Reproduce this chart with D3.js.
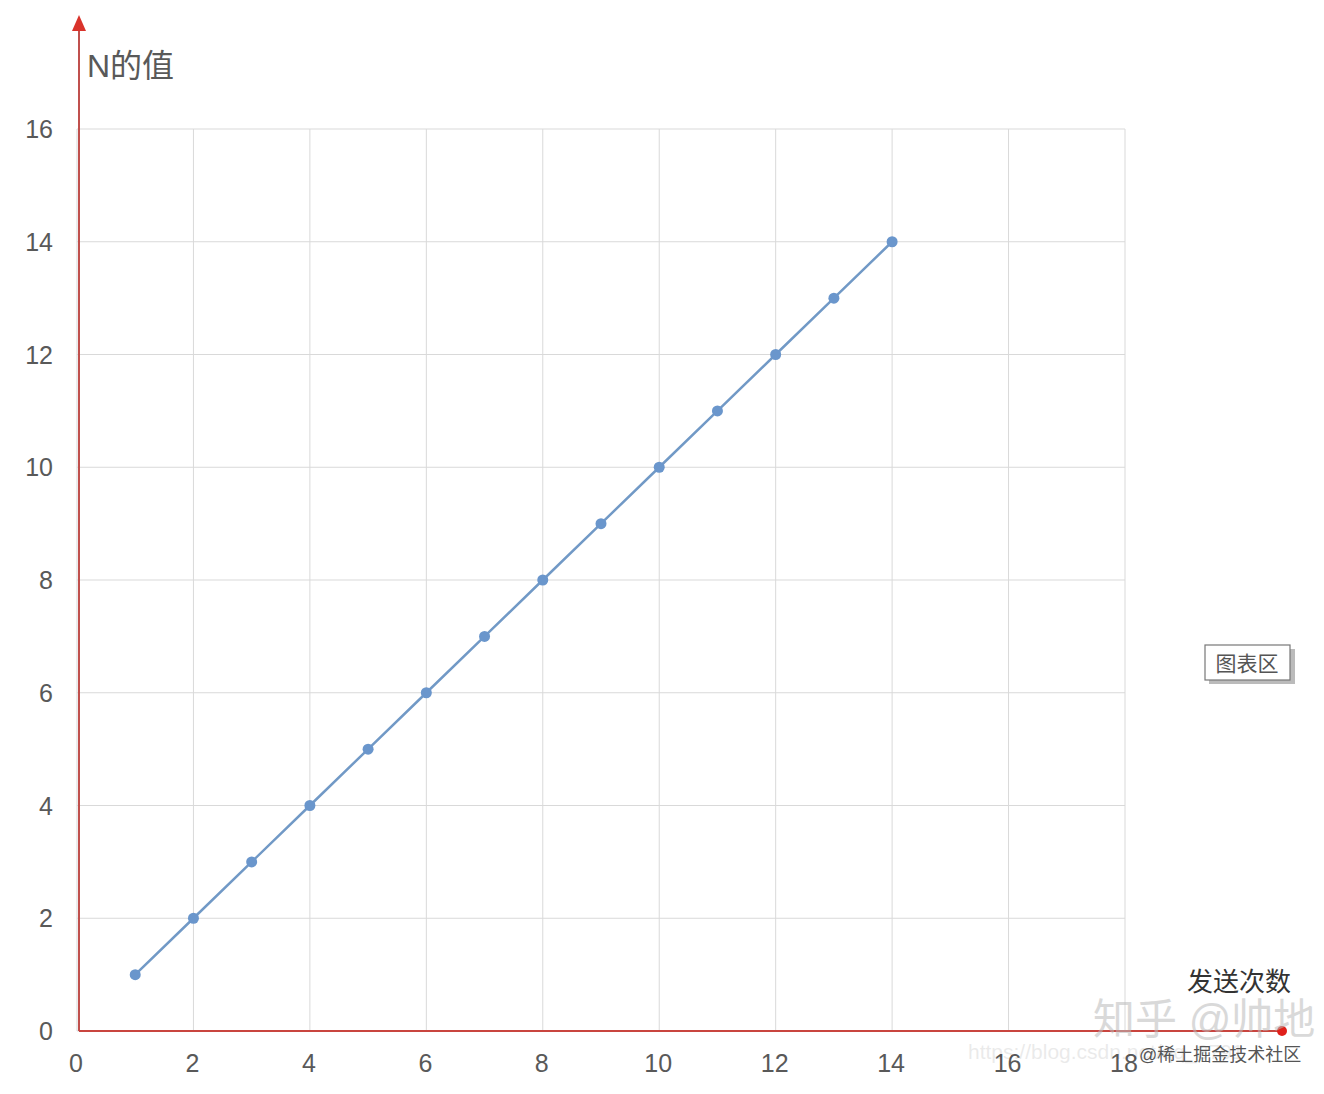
<!DOCTYPE html>
<html lang="zh">
<head>
  <meta charset="UTF-8">
  <title>N的值</title>
  <script src="https://d3js.org/d3.v7.min.js"></script>
  <style>
    body { margin: 0; background: #fff; }
    text { font-family: "Liberation Sans", "Noto Sans CJK SC", sans-serif; }
  </style>
</head>
<body>
  <div id="chart"></div>
  <script>
    // data
    const sendCounts = [1, 2, 3, 4, 5, 6, 7, 8, 9, 10, 11, 12, 13, 14];
    const nValues = [1, 2, 3, 4, 5, 6, 7, 8, 9, 10, 11, 12, 13, 14];
    const xTicks = [0, 2, 4, 6, 8, 10, 12, 14, 16, 18];
    const yTicks = [0, 2, 4, 6, 8, 10, 12, 14, 16];

    const width = 1324, height = 1094;
    const margin = { top: 129, right: 199, bottom: 63, left: 77 };

    const svg = d3.select('#chart').append('svg')
      .attr('width', width)
      .attr('height', height);

    const scaleX = d3.scaleLinear().domain([0, 18]).range([margin.left, width - margin.right]);
    const scaleY = d3.scaleLinear().domain([0, 16]).range([height - margin.bottom, margin.top]);

    // grid
    const grid = svg.append('g').attr('stroke', '#d9d9d9').attr('stroke-width', 1);
    grid.selectAll('.vx').data(xTicks).enter().append('line')
      .attr('x1', d => scaleX(d)).attr('x2', d => scaleX(d))
      .attr('y1', scaleY(0)).attr('y2', scaleY(16));
    grid.selectAll('.hy').data(yTicks).enter().append('line')
      .attr('x1', scaleX(0)).attr('x2', scaleX(18))
      .attr('y1', d => scaleY(d)).attr('y2', d => scaleY(d));

    // tick labels
    svg.append('g').selectAll('text').data(yTicks).enter().append('text')
      .attr('x', 53).attr('y', d => scaleY(d) + 9)
      .attr('text-anchor', 'end')
      .attr('font-size', 25).attr('fill', '#595959')
      .text(d => d);
    svg.append('g').selectAll('text').data(xTicks).enter().append('text')
      .attr('x', d => scaleX(d) - 1).attr('y', scaleY(0) + 41)
      .attr('text-anchor', 'middle')
      .attr('font-size', 25).attr('fill', '#595959')
      .text(d => d);

    // red axes
    const x0 = scaleX(0) + 2, y0 = scaleY(0);
    svg.append('line')
      .attr('x1', x0).attr('x2', x0).attr('y1', y0).attr('y2', 28)
      .attr('stroke', '#c0504d').attr('stroke-width', 2);
    svg.append('path')
      .attr('d', `M${x0 - 7},31 L${x0},15 L${x0 + 7},31 Z`)
      .attr('fill', '#d9332b');
    svg.append('line')
      .attr('x1', x0).attr('x2', 1282).attr('y1', y0).attr('y2', y0)
      .attr('stroke', '#c9453f').attr('stroke-width', 2);
    svg.append('circle')
      .attr('cx', 1282).attr('cy', y0).attr('r', 5)
      .attr('fill', '#e0201b');

    // series
    const pts = sendCounts.map((x, i) => [x, nValues[i]]);
    svg.append('path')
      .datum(pts)
      .attr('fill', 'none')
      .attr('stroke', '#7199c6')
      .attr('stroke-width', 2.5)
      .attr('d', d3.line().x(d => scaleX(d[0])).y(d => scaleY(d[1])));
    svg.append('g').selectAll('circle').data(pts).enter().append('circle')
      .attr('cx', d => scaleX(d[0])).attr('cy', d => scaleY(d[1]))
      .attr('r', 5.5)
      .attr('fill', '#6a96cc');

    // axis titles
    svg.append('text')
      .attr('x', 87).attr('y', 77)
      .attr('font-size', 32).attr('fill', '#595959')
      .text('N的值');
    svg.append('text')
      .attr('x', 1187).attr('y', 991)
      .attr('font-size', 26).attr('fill', '#333')
      .text('发送次数');

    // "图表区" tooltip box
    svg.append('rect')
      .attr('x', 1209).attr('y', 649).attr('width', 86).attr('height', 35)
      .attr('fill', '#bbb');
    svg.append('rect')
      .attr('x', 1205).attr('y', 645).attr('width', 85).attr('height', 35)
      .attr('fill', '#fff').attr('stroke', '#777').attr('stroke-width', 1.2);
    svg.append('text')
      .attr('x', 1247).attr('y', 671).attr('text-anchor', 'middle')
      .attr('font-size', 21).attr('fill', '#555')
      .text('图表区');

    // watermarks (overlap the axis corner in the original image too)
    svg.append('text')
      .attr('x', 968).attr('y', 1059)
      .attr('font-size', 21).attr('fill', '#000').attr('opacity', 0.08)
      .text('https://blog.csdn.net/qq_3791');
    svg.append('text')
      .attr('x', 1093).attr('y', 1034)
      .attr('font-size', 42).attr('fill', '#bbb').attr('opacity', 0.55)
      .text('知乎 @帅地');
    svg.append('text')
      .attr('x', 1139).attr('y', 1061)
      .attr('font-size', 18).attr('fill', '#555')
      .text('@稀土掘金技术社区');
  </script>
</body>
</html>
